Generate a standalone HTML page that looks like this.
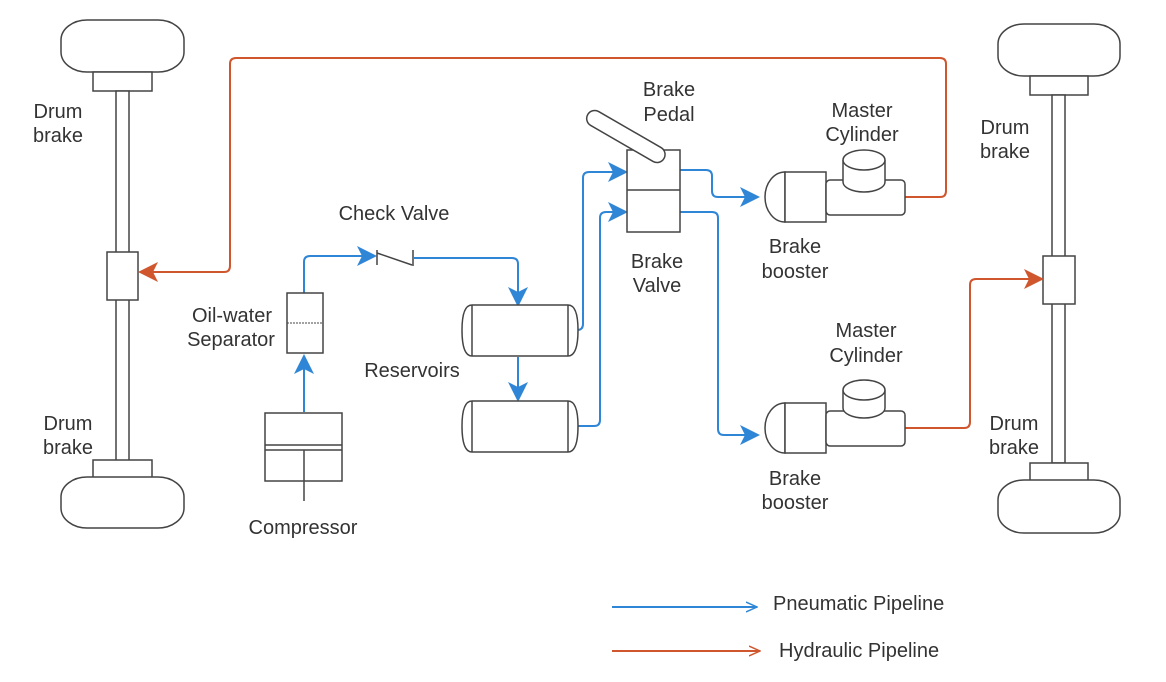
<!DOCTYPE html>
<html><head><style>
body{margin:0;background:#fff;}
svg text{font-family:"Liberation Sans","DejaVu Sans",sans-serif;font-size:20px;fill:#333;}
</style></head><body>
<svg width="1166" height="677" viewBox="0 0 1166 677" xmlns="http://www.w3.org/2000/svg">
<defs>
<marker id="ab2" markerWidth="20" markerHeight="20" refX="18" refY="10" orient="auto" markerUnits="userSpaceOnUse" viewBox="0 0 20 20"><path d="M0,0 L20,10 L0,20 L5,10 Z" fill="#2f86d6"/></marker>
<marker id="ao" markerWidth="20" markerHeight="20" refX="18" refY="10" orient="auto" markerUnits="userSpaceOnUse" viewBox="0 0 20 20"><path d="M0,0 L20,10 L0,20 L5,10 Z" fill="#d0562e"/></marker>
<marker id="lb" markerWidth="12" markerHeight="12" refX="11" refY="6" orient="auto" markerUnits="userSpaceOnUse"><path d="M0,1 L11,6 L0,11" fill="none" stroke="#2f86d6" stroke-width="1.5"/></marker>
<marker id="lo" markerWidth="12" markerHeight="12" refX="11" refY="6" orient="auto" markerUnits="userSpaceOnUse"><path d="M0,1 L11,6 L0,11" fill="none" stroke="#d0562e" stroke-width="1.5"/></marker>
</defs>
<g fill="#fff" stroke="#444" stroke-width="1.5">
<rect x="61" y="20" width="123" height="52" rx="26" ry="20"/>
<rect x="93" y="72" width="59" height="19"/>
<rect x="116" y="91" width="13" height="370"/>
<rect x="107" y="252" width="31" height="48"/>
<rect x="93" y="460" width="59" height="20"/>
<rect x="61" y="477" width="123" height="51" rx="26" ry="20"/>
<rect x="998" y="24" width="122" height="52" rx="26" ry="20"/>
<rect x="1030" y="76" width="58" height="19"/>
<rect x="1052" y="95" width="13" height="368"/>
<rect x="1043" y="256" width="32" height="48"/>
<rect x="1030" y="463" width="58" height="19"/>
<rect x="998" y="480" width="122" height="53" rx="26" ry="20"/>
</g>
<g fill="none" stroke="#d0562e" stroke-width="2">
<path d="M905,197 H940 Q946,197 946,191 V64 Q946,58 940,58 H236 Q230,58 230,64 V266 Q230,272 224,272 H140" marker-end="url(#ao)"/>
<path d="M905,428 H964 Q970,428 970,422 V285 Q970,279 976,279 H1042" marker-end="url(#ao)"/>
</g>
<g fill="none" stroke="#2f86d6" stroke-width="2">
<path d="M304,412 V356" marker-end="url(#ab2)"/>
<path d="M304,293 V262 Q304,256 310,256 H375" marker-end="url(#ab2)"/>
<path d="M414,258 H512 Q518,258 518,264 V305" marker-end="url(#ab2)"/>
<path d="M518,357 V400" marker-end="url(#ab2)"/>
<path d="M575,330 H577 Q583,330 583,324 V178 Q583,172 589,172 H626" marker-end="url(#ab2)"/>
<path d="M575,426 H594 Q600,426 600,420 V218 Q600,212 606,212 H626" marker-end="url(#ab2)"/>
<path d="M680,170 H706 Q712,170 712,176 V191 Q712,197 718,197 H758" marker-end="url(#ab2)"/>
<path d="M680,212 H712 Q718,212 718,218 V429 Q718,435 724,435 H758" marker-end="url(#ab2)"/>
</g>
<g fill="#fff" stroke="#444" stroke-width="1.5">
<rect x="265" y="413" width="77" height="68"/>
<line x1="265" y1="445" x2="342" y2="445"/>
<line x1="265" y1="450" x2="342" y2="450"/>
<line x1="304" y1="450" x2="304" y2="501"/>
<rect x="287" y="293" width="36" height="60"/>
<line x1="287" y1="323" x2="323" y2="323" stroke-dasharray="2,1" stroke-width="1"/>
<path d="M377,250 V265 M377,253 L412,265 M413,250 V266" fill="none"/>
<path d="M472,305 H568 Q578,305 578,330 Q578,356 568,356 H472 Q462,356 462,330 Q462,305 472,305 Z"/>
<line x1="472" y1="305" x2="472" y2="356"/><line x1="568" y1="305" x2="568" y2="356"/>
<path d="M472,401 H568 Q578,401 578,426 Q578,452 568,452 H472 Q462,452 462,426 Q462,401 472,401 Z"/>
<line x1="472" y1="401" x2="472" y2="452"/><line x1="568" y1="401" x2="568" y2="452"/>
<rect x="627" y="150" width="53" height="82"/>
<line x1="627" y1="190" x2="680" y2="190"/>
<rect x="582" y="128" width="88" height="16" rx="8" transform="rotate(30 625 136)"/>
<path d="M785,172 A20,25 0 0 0 785,222 Z"/>
<rect x="785" y="172" width="41" height="50"/>
<rect x="826" y="180" width="79" height="35" rx="4"/>
<path d="M843,160 V182 A21,10 0 0 0 885,182 V160"/>
<ellipse cx="864" cy="160" rx="21" ry="10"/>
<path d="M785,403 A20,25 0 0 0 785,453 Z"/>
<rect x="785" y="403" width="41" height="50"/>
<rect x="826" y="411" width="79" height="35" rx="4"/>
<path d="M843,390 V408 A21,10 0 0 0 885,408 V390"/>
<ellipse cx="864" cy="390" rx="21" ry="10"/>
</g>
<g text-anchor="middle">
<text x="58" y="118">Drum</text><text x="58" y="142">brake</text>
<text x="68" y="430">Drum</text><text x="68" y="454">brake</text>
<text x="1005" y="134">Drum</text><text x="1005" y="158">brake</text>
<text x="1014" y="430">Drum</text><text x="1014" y="454">brake</text>
<text x="394" y="220">Check Valve</text>
<text x="232" y="322">Oil-water</text><text x="231" y="346">Separator</text>
<text x="412" y="377">Reservoirs</text>
<text x="303" y="534">Compressor</text>
<text x="669" y="96">Brake</text><text x="669" y="121">Pedal</text>
<text x="657" y="268">Brake</text><text x="657" y="292">Valve</text>
<text x="862" y="117">Master</text><text x="862" y="141">Cylinder</text>
<text x="795" y="253">Brake</text><text x="795" y="278">booster</text>
<text x="866" y="337">Master</text><text x="866" y="362">Cylinder</text>
<text x="795" y="485">Brake</text><text x="795" y="509">booster</text>
</g>
<line x1="612" y1="607" x2="757" y2="607" stroke="#2f86d6" stroke-width="2" marker-end="url(#lb)"/>
<text x="773" y="610">Pneumatic Pipeline</text>
<line x1="612" y1="651" x2="760" y2="651" stroke="#d0562e" stroke-width="2" marker-end="url(#lo)"/>
<text x="779" y="657">Hydraulic Pipeline</text>
</svg>
</body></html>
